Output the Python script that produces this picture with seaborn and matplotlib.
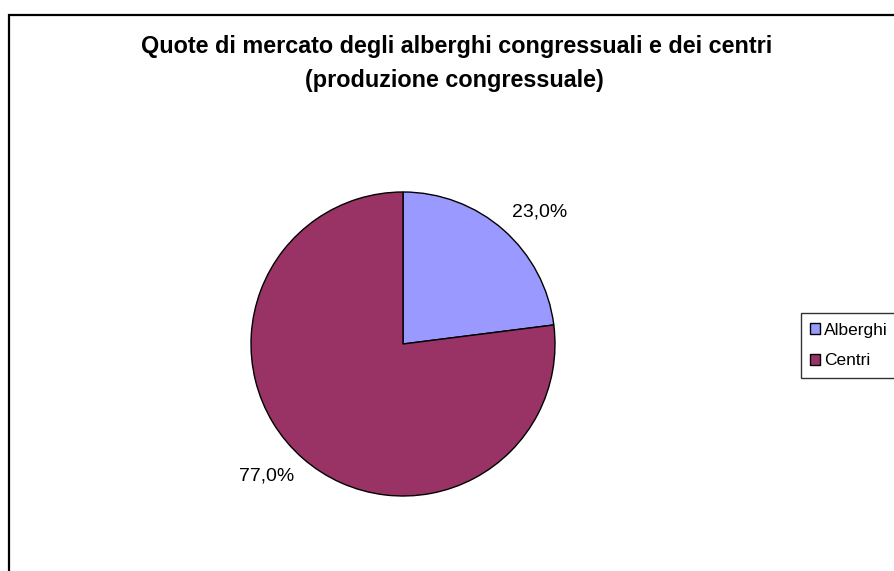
import matplotlib
matplotlib.use("Agg")
import matplotlib.pyplot as plt
import seaborn as sns
import numpy as np
from matplotlib.patches import Patch, Rectangle

categories = ["Alberghi", "Centri"]
values = [23.0, 77.0]
colors = ["#9999FF", "#993366"]
title_lines = ["Quote di mercato degli alberghi congressuali e dei centri",
               "(produzione congressuale)"]

sns.set_theme(style="white")
plt.rcParams['font.family'] = ['Liberation Sans', 'DejaVu Sans']
plt.rcParams['text.color'] = 'black'

W, H = 894, 571
fig = plt.figure(figsize=(W / 100, H / 100), dpi=100)
fig.patch.set_facecolor("white")

# outer frame (cropped at right & bottom as in reference)
fig.patches.append(Rectangle((8.5 / W, -0.2), 1.2, 1 - 14.5 / H + 0.2,
                             transform=fig.transFigure, fill=False,
                             edgecolor="black", linewidth=1.6, zorder=0))

R = 152
cx, cy = 403, 344
side = 2.5 * R
ax = fig.add_axes([(cx - side / 2) / W, (H - cy - side / 2) / H, side / W, side / H])

ld = 1.08
wedges, texts = ax.pie(values, colors=colors, startangle=90, counterclock=False,
                       labels=[f"{v:.1f}%".replace(".", ",") for v in values],
                       labeldistance=ld,
                       wedgeprops=dict(edgecolor="black", linewidth=1.0),
                       textprops=dict(fontsize=14, color="black"))
for w, t in zip(wedges, texts):
    ang = np.deg2rad((w.theta1 + w.theta2) / 2)
    x, y = ld * np.cos(ang), ld * np.sin(ang)
    t.set_position((x, y))
    t.set_ha("left" if x > 0 else "right")
    t.set_va("bottom" if y > 0 else "top")
ax.set_xlim(-1.25, 1.25)
ax.set_ylim(-1.25, 1.25)
ax.set_aspect("equal")
ax.axis("off")

fig.text(456.5 / W, 1 - 47 / H, title_lines[0], ha="center", va="center",
         fontsize=16.8, fontweight="bold", color="black")
fig.text(454 / W, 1 - 81 / H, title_lines[1], ha="center", va="center",
         fontsize=16.8, fontweight="bold", color="black")

handles = [Patch(facecolor=c, edgecolor="black", linewidth=1.0) for c in colors]
leg = fig.legend(handles, categories, loc="upper left",
                 bbox_to_anchor=(800.5 / W, 1 - 313 / H), frameon=True,
                 fancybox=False, fontsize=12.5, handlelength=0.6, handleheight=0.6,
                 handletextpad=0.2, borderpad=0.55, labelspacing=0.9,
                 borderaxespad=0)
leg.get_frame().set_edgecolor("black")
leg.get_frame().set_linewidth(1.0)
for t in leg.get_texts():
    t.set_color("black")

fig.savefig("out.png", dpi=100, facecolor="white")
